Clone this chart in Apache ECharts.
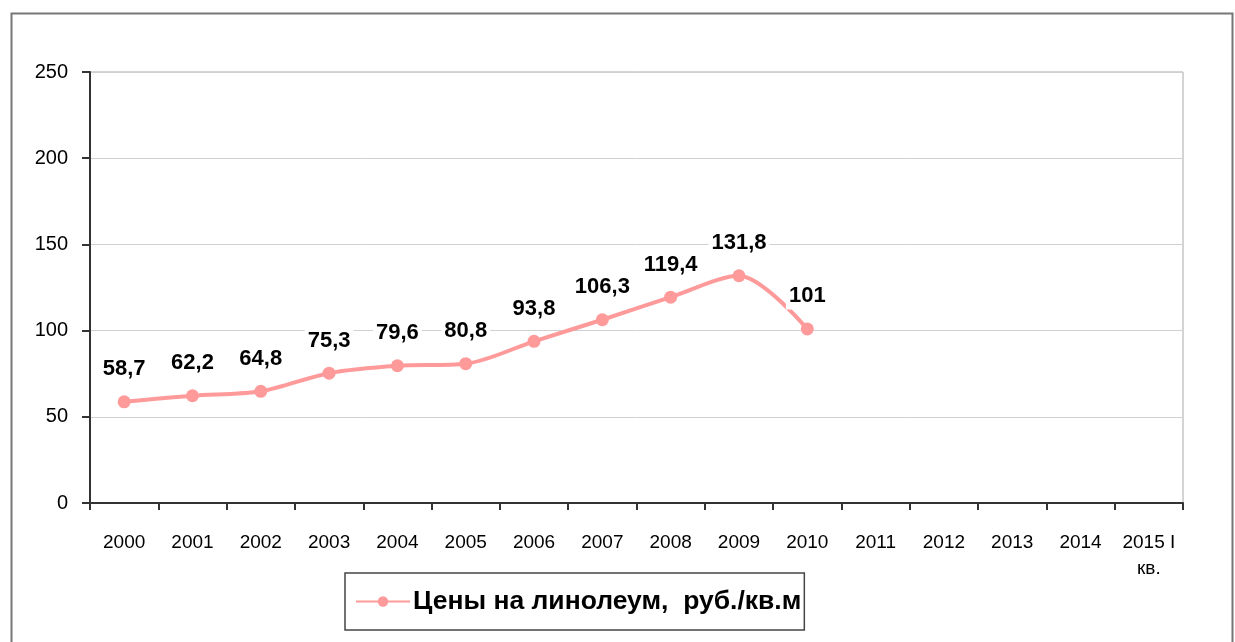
<!DOCTYPE html>
<html>
<head>
<meta charset="utf-8">
<script src="https://cdn.jsdelivr.net/npm/echarts@6/dist/echarts.min.js"></script>
<style>
html, body { margin: 0; padding: 0; background: #fff; }
#main { width: 1235px; height: 642px; }
</style>
</head>
<body>
<div id="main"></div>
<script>
var years = ['2000', '2001', '2002', '2003', '2004', '2005', '2006', '2007',
	'2008', '2009', '2010', '2011', '2012', '2013', '2014', '2015 I\nкв.'];
var prices = [58.7, 62.2, 64.8, 75.3, 79.6, 80.8, 93.8, 106.3, 119.4, 131.8, 101,
	null, null, null, null, null];
var seriesName = 'Цены на линолеум,  руб./кв.м';

var myChart = echarts.init(document.getElementById('main'));

var option = {
	animation: false,
	textStyle: { fontFamily: 'Liberation Sans, Arial, sans-serif' },
	graphic: [{
		type: 'rect',
		shape: { x: 11.5, y: 13.5, width: 1221, height: 640 },
		style: { fill: 'none', stroke: '#777', lineWidth: 2 }
	}],
	grid: {
		left: 90, right: 52, top: 72, bottom: 139,
		show: true, borderColor: '#aaa', borderWidth: 1
	},
	legend: {
		data: [seriesName],
		left: 345, top: 573,
		padding: [15, 3, 15, 10],
		borderColor: '#444', borderWidth: 1.5,
		itemWidth: 54, itemHeight: 13,
		itemGap: 0,
		textStyle: { fontSize: 26.5, fontWeight: 'bold', color: '#000', padding: [0, 0, 0, -2] }
	},
	xAxis: {
		type: 'category',
		data: years,
		boundaryGap: true,
		axisLine: { lineStyle: { color: '#333', width: 2 } },
		axisTick: { show: true, length: 7, lineStyle: { color: '#333', width: 2 } },
		axisLabel: { color: '#000', fontSize: 19, margin: 27, lineHeight: 26, interval: 0 }
	},
	yAxis: {
		type: 'value',
		min: 0, max: 250, interval: 50,
		axisLine: { show: true, lineStyle: { color: '#333', width: 2 } },
		axisTick: { show: true, length: 8, lineStyle: { color: '#333', width: 2 } },
		axisLabel: { color: '#000', fontSize: 20, margin: 22 },
		splitLine: { lineStyle: { color: '#d0d0d0', width: 1 } }
	},
	series: [{
		name: seriesName,
		type: 'line',
		data: prices,
		smooth: 0.3,
		symbol: 'circle',
		symbolSize: 13,
		connectNulls: false,
		itemStyle: { color: '#ff9a9a' },
		lineStyle: { color: '#ff9a9a', width: 4 },
		label: {
			show: true,
			position: 'top',
			distance: 13,
			fontSize: 22,
			fontWeight: 'bold',
			color: '#000',
			backgroundColor: '#fff',
			padding: [2, 3],
			formatter: function (p) {
				return String(p.value).replace('.', ',');
			}
		}
	}]
};

myChart.setOption(option);
</script>
</body>
</html>
